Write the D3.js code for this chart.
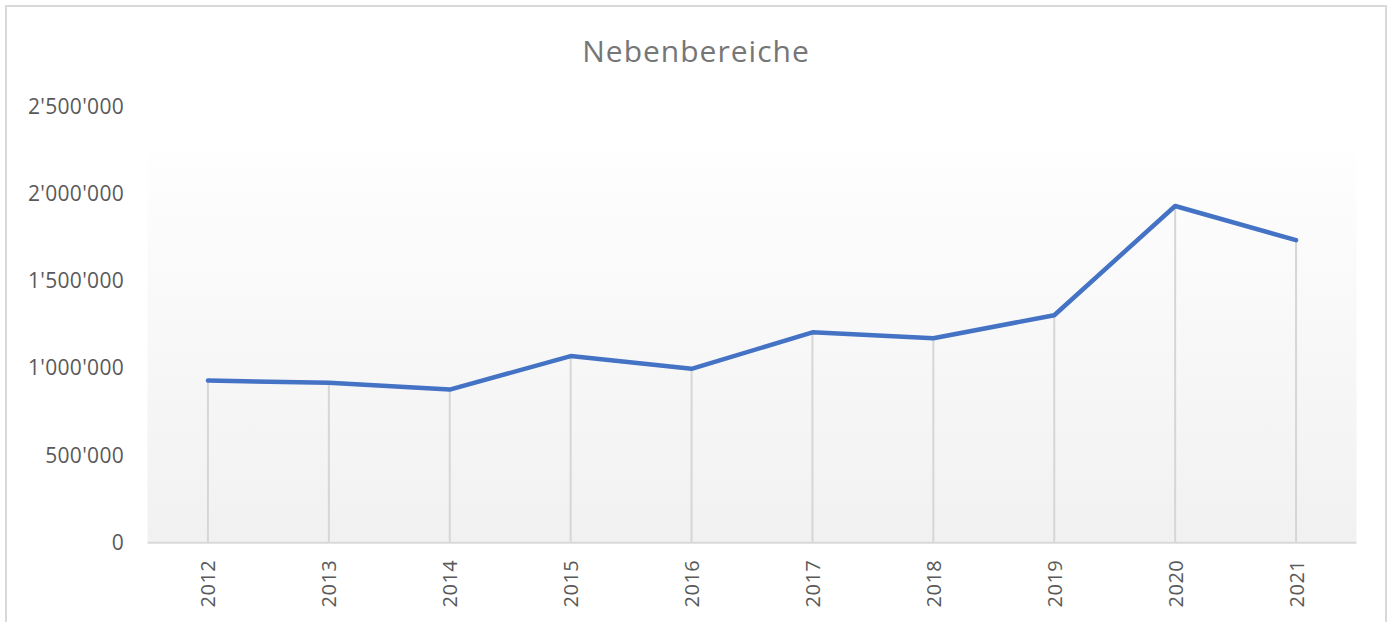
<!DOCTYPE html>
<meta charset="utf-8">
<style>
  body { margin: 0; background: #fff; }
  text { font-family: "Open Sans", "Noto Sans", sans-serif; }
</style>
<svg width="1393" height="622"></svg>
<script src="https://d3js.org/d3.v7.min.js"></script>
<script>

var years = ["2012", "2013", "2014", "2015", "2016", "2017", "2018", "2019", "2020", "2021"];
var values = [929000, 916000, 877000, 1069000, 996000, 1205000, 1171000, 1303000, 1929000, 1733000];
var yTicks = [0, 500000, 1000000, 1500000, 2000000, 2500000];
var title = "Nebenbereiche";

var svg = d3.select("svg");

// outer chart frame
svg.append("rect")
    .attr("x", 6).attr("y", 6)
    .attr("width", 1380).attr("height", 630)
    .attr("fill", "#fff")
    .attr("stroke", "#d9d9d9")
    .attr("stroke-width", 2);

var x = d3.scalePoint().domain(years).range([147.5, 1356.5]).padding(0.5);
var y = d3.scaleLinear().domain([0, 2500000]).range([542.7, 106.3]);

var defs = svg.append("defs");
var grad = defs.append("linearGradient")
    .attr("id", "plotbg")
    .attr("x1", 0).attr("y1", 0).attr("x2", 0).attr("y2", 1);
grad.append("stop").attr("offset", "0%").attr("stop-color", "#fefefe");
grad.append("stop").attr("offset", "100%").attr("stop-color", "#f1f1f1");

svg.append("rect")
    .attr("x", 147.5).attr("y", 153)
    .attr("width", 1356.5 - 147.5).attr("height", y(0) - 153)
    .attr("fill", "url(#plotbg)");

// title
svg.append("text")
    .attr("x", 696).attr("y", 62)
    .attr("text-anchor", "middle")
    .attr("fill", "#767676")
    .style("font-size", "30px")
    .style("letter-spacing", "1px")
    .text(title);

// drop lines
svg.append("g").selectAll("line")
    .data(values)
    .enter().append("line")
    .attr("x1", function(d, i) { return x(years[i]); })
    .attr("x2", function(d, i) { return x(years[i]); })
    .attr("y1", function(d) { return y(d); })
    .attr("y2", y(0))
    .attr("stroke", "#d6d6d6")
    .attr("stroke-width", 2);

// x axis
var fmt = function(d) { return d3.format(",")(d).replace(/,/g, "'"); };

var xAxis = svg.append("g")
    .attr("transform", "translate(0," + y(0) + ")")
    .call(d3.axisBottom(x).tickSize(0).tickPadding(0));
xAxis.select(".domain").attr("stroke", "#d9d9d9").attr("stroke-width", 2)
    .attr("d", "M147.5,0H1356.5");
xAxis.selectAll("text")
    .attr("fill", "#595959")
    .style("font-size", "20px")
    .style("letter-spacing", "0.5px")
    .attr("text-anchor", "end")
    .attr("dy", null)
    .attr("y", 0)
    .attr("transform", function() { return "translate(7,17) rotate(-90)"; });

// y axis
var yAxis = svg.append("g")
    .attr("transform", "translate(124,0)")
    .call(d3.axisLeft(y).tickValues(yTicks).tickFormat(fmt).tickSize(0).tickPadding(0));
yAxis.select(".domain").remove();
yAxis.selectAll("text")
    .attr("fill", "#595959")
    .style("font-size", "21px")
    .style("letter-spacing", "0.3px");

// series line
var line = d3.line()
    .x(function(d, i) { return x(years[i]); })
    .y(function(d) { return y(d); });

svg.append("path")
    .datum(values)
    .attr("d", line)
    .attr("fill", "none")
    .attr("stroke", "#4472c4")
    .attr("stroke-width", 4.5)
    .attr("stroke-linejoin", "round")
    .attr("stroke-linecap", "round");

</script>
